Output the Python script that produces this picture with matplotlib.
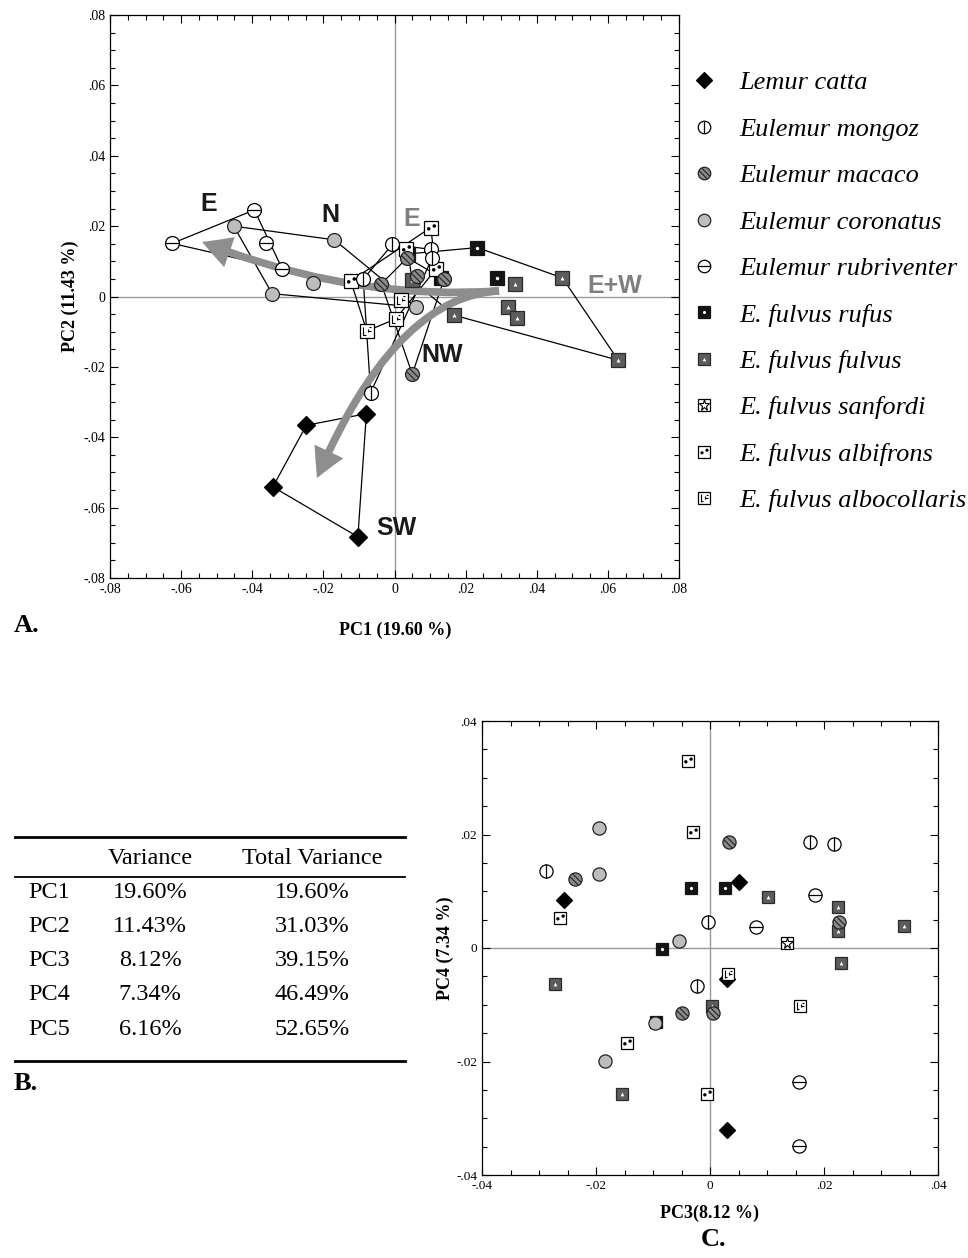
import numpy as np
import matplotlib
matplotlib.use("Agg")
import matplotlib.pyplot as plt
from matplotlib.path import Path
from matplotlib.lines import Line2D
from matplotlib.patches import FancyArrowPatch
from matplotlib.ticker import MultipleLocator, FuncFormatter

plt.rcParams["font.family"] = ["Liberation Serif", "DejaVu Serif"]

# ---- species / legend ----
KEYS = ["catta", "mongoz", "macaco", "coronatus", "rubriventer",
        "rufus", "fulvus", "sanfordi", "albifrons", "albocollaris"]
NAMES = ["Lemur catta", "Eulemur mongoz", "Eulemur macaco", "Eulemur coronatus",
         "Eulemur rubriventer", "E. fulvus rufus", "E. fulvus fulvus",
         "E. fulvus sanfordi", "E. fulvus albifrons", "E. fulvus albocollaris"]

# ---- panel A: PC1 / PC2 scores ----
catta_a = [(-0.0079, -0.0333), (-0.0248, -0.0366), (-0.0342, -0.0541), (-0.0103, -0.0683)]
mongoz_a = [(-0.0006, 0.0148), (-0.0088, 0.0049), (0.0102, 0.0134), (0.0106, 0.0110), (-0.0067, -0.0273)]
macaco_a = [(-0.0037, 0.0036), (0.0036, 0.0110), (0.0064, 0.0058), (0.0139, 0.0049), (0.0050, -0.0221)]
coronatus_a = [(-0.0452, 0.0200), (-0.0169, 0.0161), (-0.0228, 0.0038), (-0.0344, 0.0008), (0.0060, -0.0030)]
rubriventer_a = [(-0.0625, 0.0151), (-0.0394, 0.0246), (-0.0362, 0.0151), (-0.0316, 0.0079)]
rufus_a = [(0.0233, 0.0139), (0.0289, 0.0053), (0.0130, 0.0053), (0.0038, 0.0121)]
fulvus_a = [(0.0050, 0.0046), (0.0167, -0.0053), (0.0319, -0.0030), (0.0345, -0.0060),
            (0.0338, 0.0035), (0.0472, 0.0053), (0.0629, -0.0181)]
sanfordi_a = []
albifrons_a = [(0.0102, 0.0196), (-0.0123, 0.0044), (0.0116, 0.0077), (0.0032, 0.0135)]
albocollaris_a = [(-0.0078, -0.0098), (0.0017, -0.0010), (0.0003, -0.0064)]

# groups outlined by convex hulls in panel A
HULL_GROUPS = [["catta"], ["mongoz"], ["macaco"], ["coronatus"], ["rubriventer"],
               ["rufus", "fulvus"], ["albifrons", "albocollaris"]]

# trend arrows (quadratic bezier: start, control, tip) and region labels
ARROW_E = [(0.0294, 0.0016), (-0.0116, -0.0014), (-0.0541, 0.0155)]
ARROW_SW = [(0.0294, 0.0016), (0.0000, 0.0000), (-0.0218, -0.0516)]
REGIONS = [("E", -0.0522, 0.0263, "#1a1a1a"), ("N", -0.0181, 0.0232, "#1a1a1a"),
           ("E", 0.0049, 0.0220, "#7f7f7f"), ("E+W", 0.0620, 0.0030, "#7f7f7f"),
           ("NW", 0.0134, -0.0166, "#1a1a1a"), ("SW", 0.0004, -0.0658, "#1a1a1a")]

# ---- panel B: variance table ----
PCS = ["PC1", "PC2", "PC3", "PC4", "PC5"]
VAR = ["19.60%", "11.43%", "8.12%", "7.34%", "6.16%"]
TOTAL = ["19.60%", "31.03%", "39.15%", "46.49%", "52.65%"]

# ---- panel C: PC3 / PC4 scores ----
catta_c = [(-0.0256, 0.0084), (0.0050, 0.0117), (0.0029, -0.0055), (0.0029, -0.0321)]
mongoz_c = [(-0.0288, 0.0136), (-0.0003, 0.0046), (0.0175, 0.0187), (0.0218, 0.0183), (-0.0022, -0.0067)]
macaco_c = [(-0.0237, 0.0122), (0.0034, 0.0187), (0.0226, 0.0046), (0.0006, -0.0114), (-0.0050, -0.0114)]
coronatus_c = [(-0.0195, 0.0211), (-0.0195, 0.0130), (-0.0055, 0.0013), (-0.0096, -0.0132), (-0.0185, -0.0199)]
rubriventer_c = [(0.0184, 0.0093), (0.0081, 0.0037), (0.0156, -0.0236), (0.0156, -0.0349)]
rufus_c = [(-0.0033, 0.0105), (0.0027, 0.0105), (-0.0085, -0.0001), (-0.0095, -0.0130)]
fulvus_c = [(0.0102, 0.0090), (0.0224, 0.0072), (0.0224, 0.0030), (0.0340, 0.0039),
            (0.0229, -0.0027), (-0.0272, -0.0064), (0.0004, -0.0102), (-0.0155, -0.0257)]
sanfordi_c = [(0.0135, 0.0009)]
albifrons_c = [(-0.0038, 0.0330), (-0.0029, 0.0204), (-0.0263, 0.0052), (-0.0146, -0.0168), (-0.0006, -0.0257)]
albocollaris_c = [(0.0032, -0.0046), (0.0158, -0.0102)]

panel_a = dict(zip(KEYS, [catta_a, mongoz_a, macaco_a, coronatus_a, rubriventer_a,
                          rufus_a, fulvus_a, sanfordi_a, albifrons_a, albocollaris_a]))
panel_c = dict(zip(KEYS, [catta_c, mongoz_c, macaco_c, coronatus_c, rubriventer_c,
                          rufus_c, fulvus_c, sanfordi_c, albifrons_c, albocollaris_c]))
DRAW_ORDER = ["catta", "rufus", "fulvus", "albifrons", "albocollaris", "sanfordi",
              "mongoz", "rubriventer", "coronatus", "macaco"]


# ---- marker glyphs ----
def ext(p):
    return np.abs(p.vertices).max()

DOTS = Path.make_compound_path(Path.circle((-0.42, -0.05), 0.27), Path.circle((0.42, 0.38), 0.27))
DASHES = Path([(-0.55, 0.6), (-0.55, -0.6), (-0.55, -0.55), (-0.1, -0.55),
               (0.15, 0.05), (0.6, 0.05), (0.3, 0.55), (0.6, 0.55), (0.1, -0.2), (0.1, 0.3)],
              [1, 2, 1, 2, 1, 2, 1, 2, 1, 2])
_d, _h = 0.3, np.sqrt(1 - 0.3 ** 2) * 0.92
_u, _n = np.array([1, -1]) / np.sqrt(2), np.array([1, 1]) / np.sqrt(2)
HATCH = Path([tuple(-_d * _n - _h * _u), tuple(-_d * _n + _h * _u),
              tuple(_d * _n - _h * _u), tuple(_d * _n + _h * _u)], [1, 2, 1, 2])


def layers(key, ms):
    ew = 0.9
    sq = ms * 0.95
    if key == "catta":
        return [dict(marker="D", ms=ms * 0.87, mfc="black", mec="black", mew=ew)]
    if key == "mongoz":
        return [dict(marker="o", ms=ms, mfc="white", mec="black", mew=ew),
                dict(marker="|", ms=ms, mec="black", mew=ew)]
    if key == "macaco":
        return [dict(marker="o", ms=ms, mfc="#8a8a8a", mec="#222222", mew=ew),
                dict(marker=HATCH, ms=ms * ext(HATCH), mfc="none", mec="#222222", mew=0.8)]
    if key == "coronatus":
        return [dict(marker="o", ms=ms, mfc="#bdbdbd", mec="#222222", mew=ew)]
    if key == "rubriventer":
        return [dict(marker="o", ms=ms, mfc="white", mec="black", mew=ew),
                dict(marker="_", ms=ms, mec="black", mew=ew)]
    if key == "rufus":
        return [dict(marker="s", ms=sq, mfc="#141414", mec="#141414", mew=ew),
                dict(marker="o", ms=sq * 0.26, mfc="white", mec="white", mew=0)]
    if key == "fulvus":
        return [dict(marker="s", ms=sq, mfc="#5c5c5c", mec="#2a2a2a", mew=ew),
                dict(marker="^", ms=sq * 0.3, mfc="white", mec="white", mew=0)]
    if key == "sanfordi":
        return [dict(marker="s", ms=sq, mfc="white", mec="black", mew=ew),
                dict(marker="*", ms=sq * 0.95, mfc="white", mec="black", mew=0.8)]
    if key == "albifrons":
        return [dict(marker="s", ms=sq, mfc="white", mec="black", mew=ew),
                dict(marker=DOTS, ms=sq * ext(DOTS), mfc="black", mec="black", mew=0)]
    return [dict(marker="s", ms=sq, mfc="white", mec="black", mew=ew),
            dict(marker=DASHES, ms=sq * ext(DASHES), mfc="none", mec="black", mew=0.8)]


def scatter_species(ax, data, ms, z0=5):
    z = z0
    for key in DRAW_ORDER:
        for x, y in data[key]:
            for lay in layers(key, ms):
                ax.plot([x], [y], ls="none", zorder=z, **lay)
                z += 0.01


def convex_hull(pts):
    pts = sorted(set(pts))
    if len(pts) < 3:
        return pts

    def cross(o, a, b):
        return (a[0] - o[0]) * (b[1] - o[1]) - (a[1] - o[1]) * (b[0] - o[0])
    lower, upper = [], []
    for p in pts:
        while len(lower) >= 2 and cross(lower[-2], lower[-1], p) <= 0:
            lower.pop()
        lower.append(p)
    for p in reversed(pts):
        while len(upper) >= 2 and cross(upper[-2], upper[-1], p) <= 0:
            upper.pop()
        upper.append(p)
    return lower[:-1] + upper[:-1]


def tick_fmt(v, pos):
    if abs(v) < 1e-9:
        return "0"
    return ("%.2f" % v).replace("0.", ".")


def style_axes(ax, lim, major):
    ax.set_xlim(-lim, lim)
    ax.set_ylim(-lim, lim)
    for a in (ax.xaxis, ax.yaxis):
        a.set_major_locator(MultipleLocator(major))
        a.set_minor_locator(MultipleLocator(0.005))
        a.set_major_formatter(FuncFormatter(tick_fmt))
    ax.tick_params(which="both", direction="in", top=True, right=True, width=0.8, labelsize=10)
    ax.tick_params(which="major", length=6)
    ax.tick_params(which="minor", length=3.5)
    for s in ax.spines.values():
        s.set_linewidth(0.9)
    ax.axhline(0, color="#9a9a9a", lw=1.0, zorder=1)
    ax.axvline(0, color="#9a9a9a", lw=1.0, zorder=1)


W, H = 968, 1258
fig = plt.figure(figsize=(W / 100, H / 100), dpi=100)


def rect(x0, y0, x1, y1):
    return [x0 / W, 1 - y1 / H, (x1 - x0) / W, (y1 - y0) / H]


def ftext(x, y, s, **kw):
    fig.text(x / W, 1 - y / H, s, ha=kw.pop("ha", "center"), va=kw.pop("va", "center"), **kw)


# ============ Panel A ============
axA = fig.add_axes(rect(110, 15, 679, 578))
style_axes(axA, 0.08, 0.02)
for grp in HULL_GROUPS:
    pts = [p for k in grp for p in panel_a[k]]
    h = convex_hull(pts)
    hx = [p[0] for p in h] + [h[0][0]]
    hy = [p[1] for p in h] + [h[0][1]]
    axA.plot(hx, hy, color="black", lw=0.9, zorder=2)

for arr in (ARROW_E, ARROW_SW):
    pth = Path(arr, [Path.MOVETO, Path.CURVE3, Path.CURVE3])
    axA.add_patch(FancyArrowPatch(path=pth, arrowstyle="simple,head_length=2.1,head_width=2.3,tail_width=0.55",
                                  mutation_scale=10, color="#8e8e8e", lw=0, zorder=3))

scatter_species(axA, panel_a, 10)
for s, x, y, c in REGIONS:
    axA.text(x, y, s, color=c, fontsize=18, fontweight="bold", family=["Liberation Sans", "DejaVu Sans"],
             ha="center", va="center", zorder=10)

ftext(395, 630, "PC1 (19.60 %)", fontsize=13, fontweight="bold")
ftext(70, 296, "PC2 (11.43 %)", fontsize=13, fontweight="bold", rotation=90)
ftext(14, 625, "A.", fontsize=19, fontweight="bold", ha="left")

# legend
handles = [tuple(Line2D([], [], ls="none", **lay) for lay in layers(k, 9)) for k in KEYS]
fig.legend(handles, NAMES, loc="upper left", bbox_to_anchor=(691 / W, 1 - 71 / H),
           frameon=False, numpoints=1, handlelength=1.0, handletextpad=0.84,
           borderpad=0, borderaxespad=0, labelspacing=0.87,
           prop=dict(family="Liberation Serif", style="italic", size=19.0))

# ============ Panel B (table) ============
fig.add_artist(Line2D([15 / W, 405 / W], [1 - 837 / H] * 2, color="black", lw=2.0))
fig.add_artist(Line2D([15 / W, 405 / W], [1 - 877 / H] * 2, color="black", lw=1.3))
fig.add_artist(Line2D([15 / W, 405 / W], [1 - 1061 / H] * 2, color="black", lw=2.0))
ftext(150, 858, "Variance", fontsize=17.5)
ftext(312, 858, "Total Variance", fontsize=17.5)
for i, (pc, v, t) in enumerate(zip(PCS, VAR, TOTAL)):
    y = 892 + i * 34.3
    ftext(28, y, pc, fontsize=17.5, ha="left")
    ftext(150, y, v, fontsize=17.5)
    ftext(312, y, t, fontsize=17.5)
ftext(14, 1083, "B.", fontsize=19, fontweight="bold", ha="left")

# ============ Panel C ============
axC = fig.add_axes(rect(482, 721, 938, 1175))
style_axes(axC, 0.04, 0.02)
axC.tick_params(labelsize=9.5)
scatter_species(axC, panel_c, 9.5)
ftext(710, 1213, "PC3(8.12 %)", fontsize=13, fontweight="bold")
ftext(445, 948, "PC4 (7.34 %)", fontsize=13, fontweight="bold", rotation=90)
ftext(713, 1240, "C.", fontsize=19, fontweight="bold")

fig.savefig("out.png", dpi=100)
